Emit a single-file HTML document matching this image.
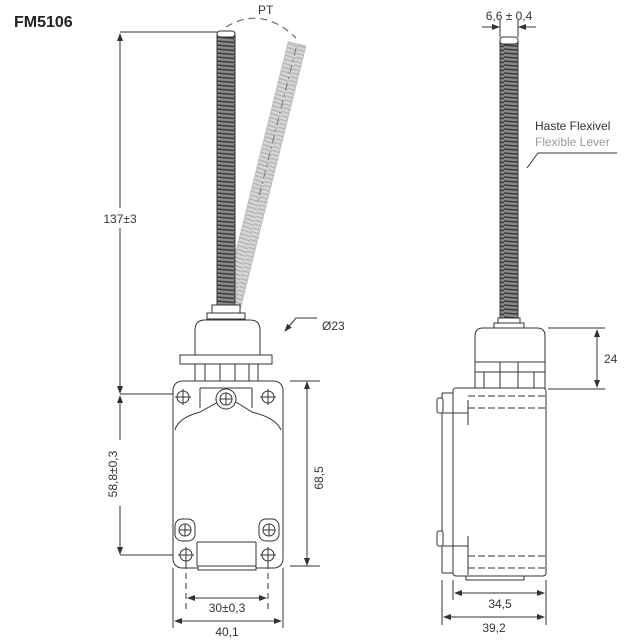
<!DOCTYPE html>
<html><head><meta charset="utf-8"><style>
html,body{margin:0;padding:0;background:#fff;}
svg{display:block;font-family:"Liberation Sans",sans-serif;}
</style></head><body>
<svg width="640" height="643" viewBox="0 0 640 643" xmlns="http://www.w3.org/2000/svg">
<defs>
<pattern id="sp" width="18" height="4" patternUnits="userSpaceOnUse">
<rect width="18" height="4" fill="#8a8a8a"/>
<path d="M0 1 L18 2.5" stroke="#3a3a3a" stroke-width="1.4"/>
</pattern>
<pattern id="spl" width="18" height="4" patternUnits="userSpaceOnUse">
<rect width="18" height="4" fill="#d6d6d6"/>
<path d="M0 1 L18 2.5" stroke="#b0b0b0" stroke-width="1.3"/>
</pattern>
<marker id="ar" markerWidth="8" markerHeight="6" refX="7" refY="3" orient="auto-start-reverse" markerUnits="userSpaceOnUse">
<path d="M0 0 L8 3 L0 6 Z" fill="#333"/>
</marker>
</defs>
<g fill="none" stroke="#333" stroke-width="1">
<text x="14" y="27" font-size="16" font-weight="bold" fill="#222" stroke="none">FM5106</text>

<!-- tilted spring -->
<g transform="rotate(14 232 305)">
<rect x="223" y="36" width="18" height="270" fill="url(#spl)" stroke="#bbb"/>
<line x1="232" y1="40" x2="232" y2="200" stroke="#777" stroke-dasharray="8 4 2 4"/>
</g>
<!-- main spring -->
<rect x="217" y="34" width="18" height="272" fill="url(#sp)" stroke="#333"/>
<rect x="217" y="31" width="18" height="6" rx="3" fill="#fff"/>
<!-- PT arc -->
<path d="M226 27 Q262 5 296 38" stroke="#555" stroke-dasharray="7 5"/>
<text x="258" y="14" font-size="12" fill="#333" stroke="none">PT</text>

<!-- collar & head -->
<rect x="212" y="305" width="28" height="8" fill="#fff"/>
<rect x="207" y="313" width="38" height="6" fill="#fff"/>
<path d="M195 355 L195 330 Q195 320 205 320 L250 320 Q260 320 260 330 L260 355" fill="#fff"/>
<rect x="180" y="355" width="92" height="9" fill="#fff"/>
<rect x="195" y="364" width="63" height="18" fill="#fff"/>
<line x1="205" y1="364" x2="205" y2="382"/><line x1="220" y1="364" x2="220" y2="382"/>
<line x1="235" y1="364" x2="235" y2="382"/><line x1="249" y1="364" x2="249" y2="382"/>
<!-- body -->
<rect x="173" y="381" width="110" height="187" rx="9" fill="#fff"/>
<path d="M175 430 Q178 418 200 412 L218 402 M236 402 L252 412 Q276 418 281 430" />
<path d="M200 388 L200 408 M252 388 L252 408 M200 388 L252 388"/>
<circle cx="226" cy="399" r="10" fill="#fff"/><circle cx="226" cy="399" r="6"/>
<path d="M220 399 H232 M226 393 V405"/>
<g>
<circle cx="183" cy="397" r="6"/><path d="M175 397 H191 M183 389 V405"/>
<circle cx="268" cy="397" r="6"/><path d="M260 397 H276 M268 389 V405"/>
<circle cx="186" cy="555" r="6"/><path d="M178 555 H194 M186 547 V563"/>
<circle cx="268" cy="555" r="6"/><path d="M260 555 H276 M268 547 V563"/>
</g>
<rect x="175" y="519" width="20" height="22" rx="7"/><circle cx="185" cy="530" r="6"/><path d="M179 530 H191 M185 524 V536"/>
<rect x="259" y="519" width="20" height="22" rx="7"/><circle cx="269" cy="530" r="6"/><path d="M263 530 H275 M269 524 V536"/>
<path d="M197 542 L197 566 M256 542 L256 566 M197 542 L256 542"/>
<rect x="198" y="566" width="58" height="4" fill="#fff"/>

<!-- front dims -->
<path d="M120 32 H217 M120 394 H173 M120 555 H173"/>
<line x1="120" y1="34" x2="120" y2="208" marker-start="url(#ar)"/>
<line x1="120" y1="228" x2="120" y2="393" marker-end="url(#ar)"/>
<line x1="120" y1="396" x2="120" y2="554" marker-start="url(#ar)" marker-end="url(#ar)"/>
<text x="120" y="223" font-size="12" text-anchor="middle" fill="#333" stroke="none">137±3</text>
<rect x="107" y="440" width="16" height="66" fill="#fff" stroke="none"/>
<text transform="translate(117 474) rotate(-90)" font-size="12" text-anchor="middle" fill="#333" stroke="none">58,8±0,3</text>
<path d="M290 381 H320 M290 566 H320"/>
<line x1="307" y1="382" x2="307" y2="565" marker-start="url(#ar)" marker-end="url(#ar)"/>
<text transform="translate(323 478) rotate(-90)" font-size="12" text-anchor="middle" fill="#333" stroke="none">68,5</text>
<path d="M186 563 V612 M268 563 V612" stroke-dasharray="6 4"/>
<path d="M173 568 V628 M283 568 V628"/>
<line x1="188" y1="598" x2="266" y2="598" marker-start="url(#ar)" marker-end="url(#ar)"/>
<text x="227" y="612" font-size="12" text-anchor="middle" fill="#333" stroke="none">30±0,3</text>
<line x1="175" y1="621" x2="281" y2="621" marker-start="url(#ar)" marker-end="url(#ar)"/>
<text x="227" y="636" font-size="12" text-anchor="middle" fill="#333" stroke="none">40,1</text>
<path d="M317 318 H296 L285 331" marker-end="url(#ar)"/>
<text x="322" y="330" font-size="12" fill="#333" stroke="none">Ø23</text>

<!-- side view -->
<rect x="500" y="40" width="18" height="279" fill="url(#sp)"/>
<rect x="500" y="37" width="18" height="7" rx="3" fill="#fff"/>
<path d="M500 20 V37 M518 20 V37"/>
<line x1="482" y1="27" x2="499" y2="27" marker-end="url(#ar)"/>
<line x1="536" y1="27" x2="519" y2="27" marker-end="url(#ar)"/>
<text x="509" y="20" font-size="12" text-anchor="middle" fill="#333" stroke="none">6,6 ± 0,4</text>
<text x="535" y="130" font-size="12" fill="#333" stroke="none">Haste Flexivel</text>
<text x="535" y="146" font-size="12" fill="#999" stroke="none">Flexible Lever</text>
<path d="M527 168 L538 153 H617"/>
<rect x="498" y="318" width="22" height="5" fill="#fff"/>
<rect x="494" y="323" width="30" height="5" fill="#fff"/>
<path d="M475 362 L475 336 Q475 328 483 328 L537 328 Q545 328 545 336 L545 362" fill="#fff"/>
<rect x="475" y="362" width="70" height="27" fill="#fff"/>
<line x1="475" y1="362" x2="545" y2="362"/>
<path d="M484 372 V389 M500 362 V389 M518 362 V389 M534 372 V389 M475 372 H545"/>
<rect x="453" y="388" width="93" height="188" rx="3" fill="#fff"/>
<path d="M442 393 V573 M442 393 H453 M442 573 H453"/>
<rect x="437" y="398" width="6" height="15" rx="2" fill="#fff"/>
<rect x="437" y="531" width="6" height="15" rx="2" fill="#fff"/>
<path d="M443 413 H468 M443 546 H468 M468 400 V425 M468 536 V575"/>
<path d="M468 396 H546 M468 408 H546 M468 556 H546 M468 568 H546" stroke-dasharray="7 3"/>
<rect x="466" y="576" width="58" height="4" fill="#fff"/>
<path d="M548 328 H605 M548 389 H605"/>
<line x1="597" y1="330" x2="597" y2="387" marker-start="url(#ar)" marker-end="url(#ar)"/>
<text x="604" y="363" font-size="12" fill="#333" stroke="none">24</text>
<path d="M453 580 V600 M546 580 V625 M442 580 V625"/>
<line x1="455" y1="593" x2="544" y2="593" marker-start="url(#ar)" marker-end="url(#ar)"/>
<text x="500" y="608" font-size="12" text-anchor="middle" fill="#333" stroke="none">34,5</text>
<line x1="444" y1="617" x2="544" y2="617" marker-start="url(#ar)" marker-end="url(#ar)"/>
<text x="494" y="632" font-size="12" text-anchor="middle" fill="#333" stroke="none">39,2</text>
</g>
</svg>
</body></html>
